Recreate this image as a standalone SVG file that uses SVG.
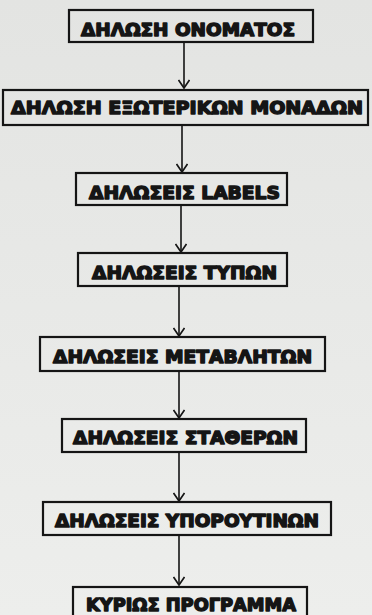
<svg xmlns="http://www.w3.org/2000/svg" width="372" height="615" viewBox="0 0 372 615">
<defs>
<linearGradient id="bg" x1="0" y1="0" x2="0" y2="1">
<stop offset="0" stop-color="#e3e4e2"/>
<stop offset="1" stop-color="#edeeec"/>
</linearGradient>
<marker id="arr" viewBox="0 0 10 12" refX="9" refY="6" markerWidth="10" markerHeight="12" markerUnits="userSpaceOnUse" orient="auto">
<path d="M1,0.5 L9,6 L1,11.5" fill="none" stroke="#151515" stroke-width="1.7"/>
</marker>
</defs>
<style>
.box{fill:none;stroke:#151515;stroke-width:2.2}
.lbl{font-family:"DejaVu Sans","Liberation Sans",sans-serif;font-weight:bold;font-size:18px;fill:#151515;stroke:#151515;stroke-width:1.5;stroke-linejoin:round}
.con{stroke:#151515;stroke-width:1.6;fill:none}
</style>
<rect x="0" y="0" width="372" height="615" fill="url(#bg)"/>
<g id="connectors">
<line class="con" x1="184" y1="43" x2="184" y2="88" marker-end="url(#arr)"/>
<line class="con" x1="182" y1="126" x2="182" y2="172" marker-end="url(#arr)"/>
<line class="con" x1="181" y1="206" x2="181" y2="252" marker-end="url(#arr)"/>
<line class="con" x1="179" y1="287" x2="179" y2="336" marker-end="url(#arr)"/>
<line class="con" x1="179" y1="372" x2="179" y2="418" marker-end="url(#arr)"/>
<line class="con" x1="179" y1="453" x2="179" y2="501" marker-end="url(#arr)"/>
<line class="con" x1="179" y1="536" x2="179" y2="585" marker-end="url(#arr)"/>
</g>
<g id="n1"><rect class="box" x="69" y="10" width="244" height="32"/><text class="lbl" x="81" y="36" textLength="214" lengthAdjust="spacingAndGlyphs">ΔΗΛΩΣΗ ΟΝΟΜΑΤΟΣ</text></g>
<g id="n2"><rect class="box" x="3" y="90" width="365" height="35"/><text class="lbl" x="11" y="114" textLength="352" lengthAdjust="spacingAndGlyphs">ΔΗΛΩΣΗ ΕΞΩΤΕΡΙΚΩΝ ΜΟΝΑΔΩΝ</text></g>
<g id="n3"><rect class="box" x="76" y="173" width="211" height="32"/><text class="lbl" x="89" y="199" textLength="191" lengthAdjust="spacingAndGlyphs">ΔΗΛΩΣΕΙΣ LABELS</text></g>
<g id="n4"><rect class="box" x="78" y="253" width="209" height="33"/><text class="lbl" x="92" y="279" textLength="185" lengthAdjust="spacingAndGlyphs">ΔΗΛΩΣΕΙΣ ΤΥΠΩΝ</text></g>
<g id="n5"><rect class="box" x="40" y="337" width="285" height="34"/><text class="lbl" x="53" y="363" textLength="259" lengthAdjust="spacingAndGlyphs">ΔΗΛΩΣΕΙΣ ΜΕΤΑΒΛΗΤΩΝ</text></g>
<g id="n6"><rect class="box" x="62" y="419" width="244" height="33"/><text class="lbl" x="73" y="444" textLength="225" lengthAdjust="spacingAndGlyphs">ΔΗΛΩΣΕΙΣ ΣΤΑΘΕΡΩΝ</text></g>
<g id="n7"><rect class="box" x="43" y="502" width="288" height="33"/><text class="lbl" x="55" y="527" textLength="264" lengthAdjust="spacingAndGlyphs">ΔΗΛΩΣΕΙΣ ΥΠΟΡΟΥΤΙΝΩΝ</text></g>
<g id="n8"><rect class="box" x="73" y="587" width="234" height="36"/><text class="lbl" x="86" y="611" textLength="210" lengthAdjust="spacingAndGlyphs">ΚΥΡΙΩΣ ΠΡΟΓΡΑΜΜΑ</text></g>
</svg>
